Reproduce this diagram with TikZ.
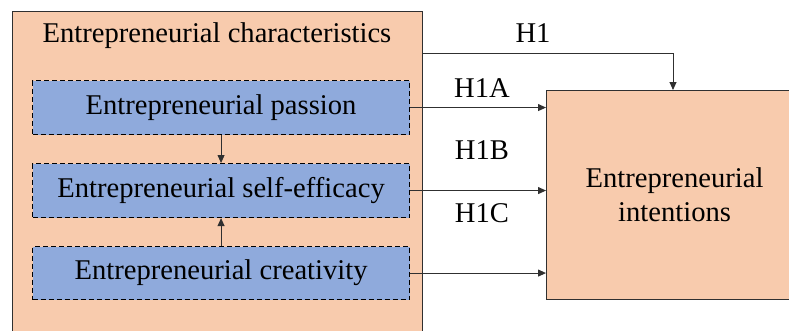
\documentclass[tikz,border=0pt]{standalone}
\usepackage{fontspec}
\setmainfont{Liberation Serif}
\usetikzlibrary{arrows.meta}
\definecolor{peach}{HTML}{F8CBAD}
\definecolor{cblue}{HTML}{8FAADC}
\definecolor{edge}{HTML}{303030}
\begin{document}
\begin{tikzpicture}[x=1pt,y=-1pt,
  every node/.style={font=\fontsize{28.6}{34}\selectfont, inner sep=0pt},
  bigbox/.style={draw=edge, line width=1.2pt, fill=peach, rectangle, anchor=north west},
  varbox/.style={draw=black, dash pattern=on 5pt off 3pt, line width=1.1pt, fill=cblue, rectangle, anchor=north west, minimum width=377pt},
  arr/.style={draw=edge, line width=0.9pt, -{Triangle[length=8pt,width=7pt]}},
  lbl/.style={}
]
\useasboundingbox (0,0) rectangle (789,330);
\clip (0,0) rectangle (789,330);
\fill[white] (0,0) rectangle (789,330);
\node[bigbox, minimum width=410pt, minimum height=345pt] (outer) at (12,11) {};
\node (title) at (217,36) {Entrepreneurial characteristics};
\node[varbox, minimum height=54pt] (p) at (32,80) {Entrepreneurial passion};
\node[varbox, minimum height=54pt] (s) at (32,163) {Entrepreneurial self-efficacy};
\node[varbox, minimum height=53pt] (c) at (32,246) {Entrepreneurial creativity};
\node[bigbox, minimum width=256pt, minimum height=209pt, align=center] (ei) at (546,90) {Entrepreneurial\\intentions};
\draw[arr] (p.south) -- (s.north);
\draw[arr] (c.north) -- (s.south);
\draw[arr] (p.east) -- (p.east -| ei.west);
\draw[arr] (s.east) -- (s.east -| ei.west);
\draw[arr] (c.east) -- (c.east -| ei.west);
\draw[arr] ([yshift=-42pt]outer.north east) -| ([xshift=127pt]ei.north west);
\node[lbl] (h1) at (533,33) {H1};
\node[lbl] (h1a) at (482,88) {H1A};
\node[lbl] (h1b) at (482,150) {H1B};
\node[lbl] (h1c) at (482,213) {H1C};
\end{tikzpicture}
\end{document}
